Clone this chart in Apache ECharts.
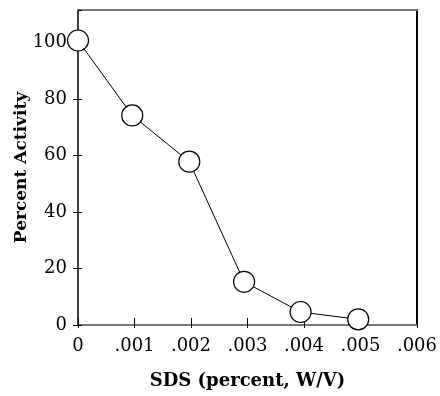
<!DOCTYPE html>
<html>
<head>
<meta charset="utf-8">
<script src="https://cdn.jsdelivr.net/npm/echarts@6/dist/echarts.min.js"></script>
<style>
  html, body { margin: 0; padding: 0; background: #fff; }
  #chart { width: 440px; height: 396px; }
</style>
</head>
<body>
<div id="chart"></div>
<script>
const sdsPercent = [0.0, 0.00096, 0.00197, 0.00294, 0.00394, 0.00496];
const percentActivity = [100.7, 74.2, 57.8, 15.3, 4.6, 2.0];
const xTicks = [0, 0.001, 0.002, 0.003, 0.004, 0.005, 0.006];
const xTickLabels = ['0', '.001', '.002', '.003', '.004', '.005', '.006'];
const yTicks = [0, 20, 40, 60, 80, 100];
const xTitle = 'SDS (percent, W/V)';
const yTitle = 'Percent Activity';

const serif = 'DejaVu Serif';
const chart = echarts.init(document.getElementById('chart'), null, { renderer: 'canvas' });

function xLabel(v) {
  for (let i = 0; i < xTicks.length; i++) {
    if (Math.abs(v - xTicks[i]) < 1e-9) return xTickLabels[i];
  }
  return '';
}
function yLabel(v) {
  return yTicks.indexOf(Math.round(v)) >= 0 && Math.abs(v - Math.round(v)) < 1e-6 ? String(Math.round(v)) : '';
}

const xBase = { type: 'value', min: 0, max: 0.006, interval: 0.001, splitLine: { show: false } };
const yBase = { type: 'value', min: 0, max: 111.5, interval: 20, splitLine: { show: false } };

chart.setOption({
  animation: false,
  backgroundColor: '#fff',
  grid: { left: 78, right: 23, top: 10, bottom: 71, containLabel: false },
  xAxis: [
    Object.assign({}, xBase, {
      position: 'bottom',
      name: xTitle,
      nameLocation: 'middle',
      nameGap: 47,
      nameMoveOverlap: false,
      nameTextStyle: { fontFamily: serif, fontWeight: 'bold', fontSize: 18, color: '#000' },
      axisLine: { show: true, onZero: false, lineStyle: { color: '#777', width: 2 } },
      axisTick: { show: true, inside: true, length: 7, lineStyle: { color: '#000', width: 1 } },
      axisLabel: { show: true, margin: 12, fontFamily: serif, fontSize: 18, color: '#000', formatter: xLabel }
    }),
    Object.assign({}, xBase, {
      position: 'bottom',
      axisLine: { show: false, onZero: false },
      axisTick: { show: true, inside: false, length: 3, lineStyle: { color: '#000', width: 1 } },
      axisLabel: { show: false }
    }),
    Object.assign({}, xBase, {
      position: 'top',
      axisLine: { show: true, onZero: false, lineStyle: { color: '#777', width: 2 } },
      axisTick: { show: false },
      axisLabel: { show: false }
    })
  ],
  yAxis: [
    Object.assign({}, yBase, {
      position: 'left',
      name: yTitle,
      nameLocation: 'middle',
      nameGap: 48,
      nameMoveOverlap: false,
      nameRotate: 90,
      nameTextStyle: { fontFamily: serif, fontWeight: 'bold', fontSize: 17, color: '#000' },
      axisLine: { show: true, onZero: false, lineStyle: { color: '#000', width: 1.5 } },
      axisTick: { show: true, inside: false, length: 5, lineStyle: { color: '#000', width: 1 } },
      axisLabel: { show: true, margin: 11, fontFamily: serif, fontSize: 18, color: '#000', formatter: yLabel, showMaxLabel: false }
    }),
    Object.assign({}, yBase, {
      position: 'left',
      axisLine: { show: false, onZero: false },
      axisTick: { show: true, inside: true, length: 4, lineStyle: { color: '#000', width: 1 } },
      axisLabel: { show: false, showMaxLabel: false }
    }),
    Object.assign({}, yBase, {
      position: 'right',
      axisLine: { show: true, onZero: false, lineStyle: { color: '#000', width: 2 } },
      axisTick: { show: false },
      axisLabel: { show: false }
    })
  ],
  series: [{
    type: 'line',
    xAxisIndex: 0,
    yAxisIndex: 0,
    data: sdsPercent.map((x, i) => [x, percentActivity[i]]),
    symbol: 'circle',
    symbolSize: 21,
    lineStyle: { color: '#000', width: 1 },
    itemStyle: { color: '#fff', borderColor: '#000', borderWidth: 1.2 },
    z: 5
  }]
});
</script>
</body>
</html>
